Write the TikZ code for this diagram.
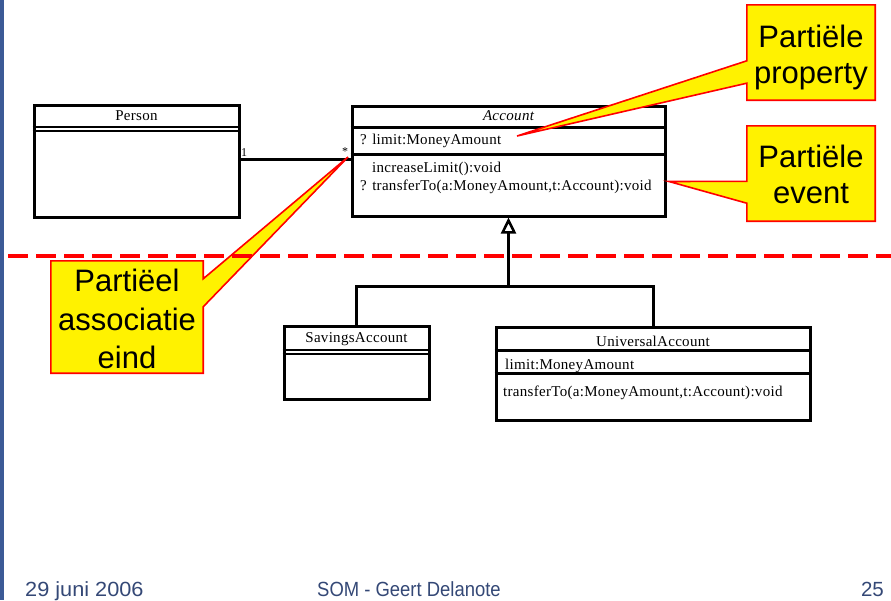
\documentclass[tikz,border=0pt]{standalone}
\usepackage{fontspec}
\usepackage{graphicx}
\setmainfont{Liberation Serif}[LetterSpace=2]
\newfontfamily\arialfont{Liberation Sans}
\usetikzlibrary{arrows.meta,calc}
\definecolor{barblue}{RGB}{60,90,150}
\definecolor{footblue}{RGB}{52,72,118}
\begin{document}
\begin{tikzpicture}[x=1pt,y=-1pt,
  umlbox/.style={draw=black, line width=3pt, rectangle, inner sep=0pt},
  umltext/.style={font=\fontsize{15}{16}\selectfont, inner sep=0pt, anchor=base west},
  umlcenter/.style={font=\fontsize{15}{16}\selectfont, inner sep=0pt, anchor=base},
  sepline/.style={line width=2.5pt},
  link/.style={line width=3pt},
  callout/.style={fill=yellow, draw=red, line width=1.6pt, line join=miter},
  callbox/.style={rectangle, inner sep=0pt},
  calltext/.style={font=\arialfont\fontsize{31}{36}\selectfont, align=center, inner sep=0pt},
  footer/.style={font=\arialfont\fontsize{20.5}{24}\selectfont, text=footblue, inner sep=0pt, anchor=base}
]
\useasboundingbox (0,0) rectangle (891,600);
\fill[white] (0,0) rectangle (891,600);
\fill[barblue] (0,0) rectangle (4,600);

% ---------- classes ----------
\node[umlbox, minimum width=205pt, minimum height=112pt] (person) at (136.5,161) {};
\node[umlcenter] (personname) at (136.5,120) {Person};
\draw[line width=2pt] ($(person.north west)+(0,23.5)$) -- ($(person.north east)+(0,23.5)$);
\draw[line width=2pt] ($(person.north west)+(0,27.5)$) -- ($(person.north east)+(0,27.5)$);

\node[umlbox, minimum width=313pt, minimum height=110pt] (account) at (508.5,161) {};
\node[umlcenter] (accountname) at (508.5,120) {\itshape Account};
\draw[sepline] ($(account.north west)+(0,23)$) -- ($(account.north east)+(0,23)$);
\draw[sepline] ($(account.north west)+(0,50)$) -- ($(account.north east)+(0,50)$);
\node[umltext] (acclimit) at (360,144) {? limit:MoneyAmount};
\node[umltext] (accinc) at (372,172) {increaseLimit():void};
\node[umltext] (acctrans) at (360,190.5) {? transferTo(a:MoneyAmount,t:Account):void};

\node[umlbox, minimum width=145pt, minimum height=73pt] (savings) at (356.5,362.5) {};
\node[umlcenter] (savingsname) at (356.5,342) {SavingsAccount};
\draw[line width=2pt] ($(savings.north west)+(0,25.5)$) -- ($(savings.north east)+(0,25.5)$);
\draw[line width=2pt] ($(savings.north west)+(0,29.5)$) -- ($(savings.north east)+(0,29.5)$);

\node[umlbox, minimum width=314pt, minimum height=93pt] (universal) at (653,373.5) {};
\node[umlcenter] (universalname) at (653,346) {UniversalAccount};
\draw[sepline] ($(universal.north west)+(0,25)$) -- ($(universal.north east)+(0,25)$);
\draw[sepline] ($(universal.north west)+(0,48)$) -- ($(universal.north east)+(0,48)$);
\node[umltext] (unilimit) at (505,369) {limit:MoneyAmount};
\node[umltext] (unitrans) at (503,396) {transferTo(a:MoneyAmount,t:Account):void};

% ---------- association ----------
\coordinate (assocstart) at ([yshift=2pt]person.east);
\draw[link] (assocstart) -- (assocstart -| account.west);
\node[umltext, font=\fontsize{12}{14}\selectfont] (mult1) at (241,156) {1};
\node[umltext, font=\fontsize{12}{14}\selectfont] (multstar) at (342,155) {*};

% ---------- generalization ----------
\coordinate (gen) at (508.5,286);
\draw[link, -{Triangle[open, length=16pt, width=15pt, line width=2.5pt]}] (gen) -- (account.south);
\draw[link] (savings.north) |- (gen) -| (universal.north);

% ---------- callouts ----------
\coordinate (tipprop) at (517,136);
\coordinate (tipevent) at (669,181.5);
\coordinate (tipassoc) at (348,157);

\node[callbox, minimum width=128pt, minimum height=95pt] (propbox) at (811,52.5) {};
\draw[callout] (propbox.north west) -- (propbox.north east) -- (propbox.south east) -- (propbox.south west)
  -- ($(propbox.south west)+(0,-17)$) -- (tipprop) -- ($(propbox.north west)+(0,56)$) -- cycle;
\node[calltext] (proptext) at (811,57.5) {Partiële\\property};

\node[callbox, minimum width=128pt, minimum height=95pt] (eventbox) at (811,173.5) {};
\draw[callout] (eventbox.north west) -- (eventbox.north east) -- (eventbox.south east) -- (eventbox.south west)
  -- ($(eventbox.south west)+(0,-18)$) -- (tipevent) -- ($(eventbox.north west)+(0,55.5)$) -- cycle;
\node[calltext] (eventtext) at (811,174.7) {Partiële\\event};

\node[callbox, minimum width=152pt, minimum height=112pt] (assocbox) at (127,317) {};
\draw[callout] (assocbox.north west) -- (assocbox.north east) -- ($(assocbox.north east)+(0,18)$)
  -- (tipassoc) -- ($(assocbox.north east)+(0,46)$) -- (assocbox.south east) -- (assocbox.south west) -- cycle;
\node[calltext, font=\arialfont\fontsize{31}{38.5}\selectfont] (assoctext) at (127,319.2) {Partiëel\\associatie\\eind};

% ---------- dashed divider ----------
\coordinate (divleft) at (8,256);
\coordinate (divright) at (891,256);
\draw[red, line width=4pt, dash pattern=on 20pt off 8pt] (divleft) -- (divright);

% ---------- footer ----------
\node[footer, anchor=base west] (date) at (25,596) {\scalebox{1.06}[1]{29 juni 2006}};
\node[footer, anchor=base west] (author) at (317,596) {\scalebox{0.9}[1]{SOM - Geert Delanote}};
\node[footer, anchor=base east] (page) at (884,596) {25};
\end{tikzpicture}
\end{document}
